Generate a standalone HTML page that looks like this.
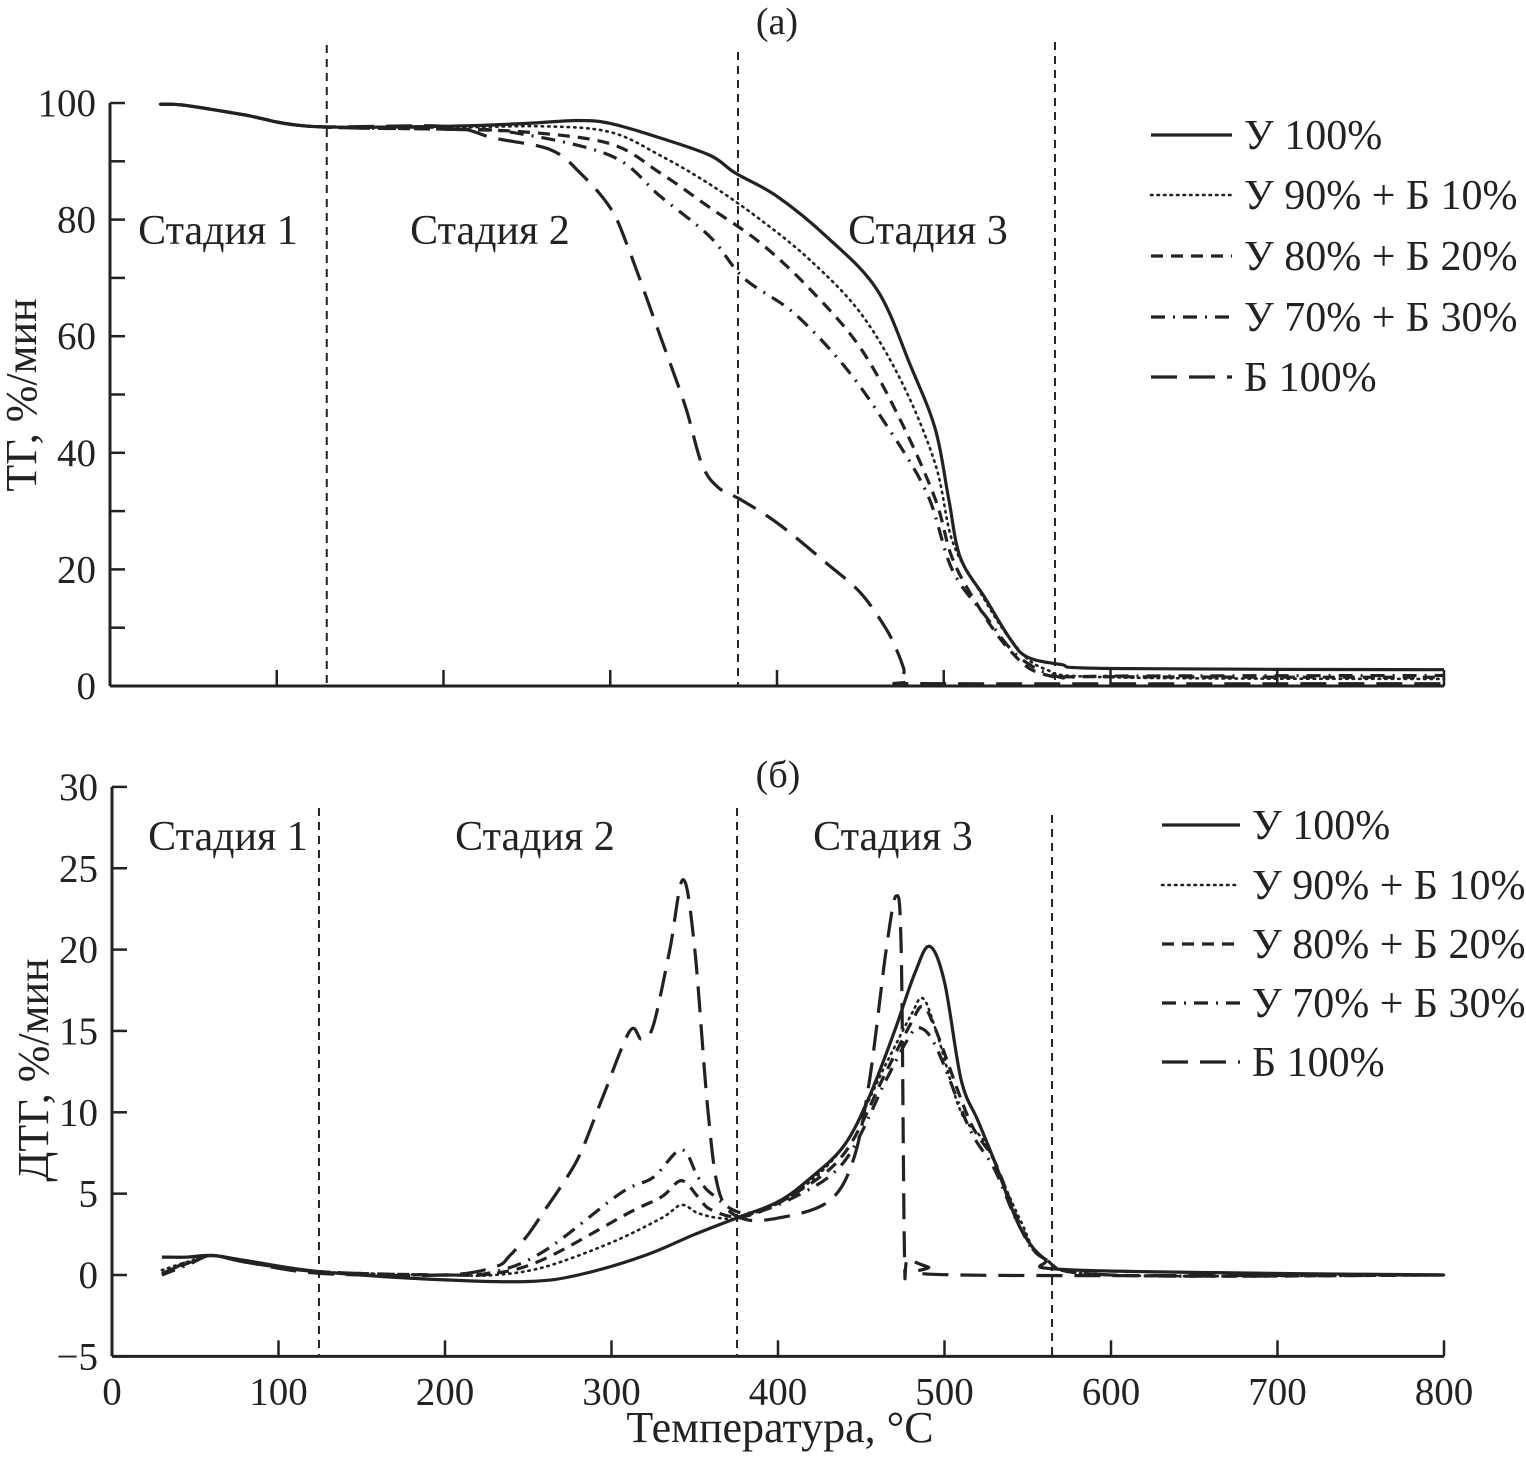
<!DOCTYPE html>
<html><head><meta charset="utf-8"><style>
html,body{margin:0;padding:0;background:#fff;}
svg{display:block;font-family:"Liberation Serif",serif;}
</style></head><body>
<svg id="chart" width="1526" height="1460" viewBox="0 0 1526 1460" xmlns="http://www.w3.org/2000/svg">
<rect width="1526" height="1460" fill="#fff"/>
</svg>
<script>
// ---- Top panel (TG) data ----
const tgU100T=[30,45,80,120,200,250,280,300,330,360,375,400,430,460,480,495,503,510,525,540,550,570,600,800];
const tgU100V=[99.8,99.6,98,96,96,96.5,97,96.5,94,91,88,84,77,68,55,44,32,22,15,8,5,3.7,3,2.8];
const tgU90T=[30,45,80,120,200,260,300,330,360,390,420,450,475,495,505,520,540,560,600,800];
const tgU90V=[99.8,99.6,98,96,95.8,96,95,91,86,80,73,64,52,38,25,17,8,3,1.5,1.2];
const tgU80T=[30,45,80,120,200,250,300,330,360,390,420,450,475,495,505,520,540,560,600,800];
const tgU80V=[99.8,99.6,98,96,95.5,95,93,88,82,76,68,58,45,32,22,14,6,2,1.6,1.5];
const tgU70T=[30,45,80,120,200,240,300,330,360,380,410,440,465,490,505,525,545,570,600,800];
const tgU70V=[99.8,99.6,98,96,95.5,95,91,84,77,70,64,55,45,33,20,12,5,1.5,1.7,1.8];
const tgB100T=[30,45,80,120,200,230,264,282,300,311,330,345,355,365,378,400,430,450,465,472,476,478,500,800];
const tgB100V=[99.8,99.6,98,96,96,94,92,88,82,75,60,48,38,34,32,28,21,16,10,6,3,0.8,0.4,0.4];
// ---- Bottom panel (DTG) data ----
const dtgU100T=[30,45,60,80,125,200,250,280,320,350,375,400,420,440,455,470,482,491,500,510,520,530,545,560,580,800];
const dtgU100V=[1.1,1.1,1.2,0.9,0.2,-0.3,-0.4,0,1.2,2.5,3.5,4.5,6,8,11,15,18.5,20.2,18,12,9.5,7,3,1,0.3,0];
const dtgU90T=[30,45,60,80,125,200,230,260,300,330,342,352,365,380,410,440,465,480,487,495,510,525,545,560,600,800];
const dtgU90V=[0.3,0.8,1.2,0.8,0.2,0,0,0.5,2,3.5,4.3,3.8,3.5,3.6,5,8,13,16,17,15,10,8,3.5,1,0,0];
const dtgU80T=[30,45,60,80,125,200,230,260,310,330,342,352,360,380,410,440,465,480,487,495,515,530,545,560,600,800];
const dtgU80V=[0.1,0.7,1.2,0.8,0.2,0,0.1,1,3.8,4.8,5.8,4.8,4,3.6,5,7.5,12.5,15.5,16.5,15,9.5,7,3.2,1,0,0];
const dtgU70T=[30,45,60,80,125,200,230,260,305,325,342,352,360,380,410,440,465,478,485,495,515,530,545,560,600,800];
const dtgU70V=[0,0.6,1.2,0.8,0.2,0,0.2,1.5,5,6,7.7,6,5,3.8,4.8,7,12,14.5,15.2,14,9,6.5,3,1,0,0];
const dtgB100T=[30,45,60,80,125,200,230,239,250,260,270,281,295,311,318,325,335,343,350,358,365,378,400,430,445,455,465,471,474,476,478,490,510,800];
const dtgB100V=[0,0.8,1.2,0.8,0.1,0,0.5,1.2,2.5,4,5.5,7.4,11,15,14.5,15.3,20,24.3,20,10,5,3.5,3.5,4.5,7,12,20,23.3,20,1.2,1,0.5,0,0];
const xTicks=[0,100,200,300,400,500,600,700,800];
const tgTicks=[0,20,40,60,80,100];
const dtgTicks=[-5,0,5,10,15,20,25,30];
const legendLabels=["У 100%","У 90% + Б 10%","У 80% + Б 20%","У 70% + Б 30%","Б 100%"];

const NS="http://www.w3.org/2000/svg";
const svg=document.getElementById('chart');
function mk(tag,attrs,parent){const e=document.createElementNS(NS,tag);for(const k in attrs)e.setAttribute(k,attrs[k]);(parent||svg).appendChild(e);return e;}
const styles=[
 {w:3.2,d:""},
 {w:2.6,d:"1.5 5",cap:"round"},
 {w:3.2,d:"12 8"},
 {w:3.2,d:"14 8 2 8"},
 {w:3.2,d:"26 12"}
];
const keys=['u100','u90-b10','u80-b20','u70-b30','b100'];

const tx=t=>110+t*1.6675, ty=v=>686-v*5.83;
const bx=t=>112+t*1.665, by=v=>1275-v*16.27;

function axes(xf,yf,yMin,yMax,ticksY,minorStep,showXLabels,name){
  const g=mk('g',{});
  
  
  mk('line',{x1:xf(0),y1:yf(yMax),x2:xf(0),y2:yf(yMin),stroke:'#222','stroke-width':3},g);
  mk('line',{x1:xf(0),y1:yf(yMin),x2:xf(800),y2:yf(yMin),stroke:'#222','stroke-width':3},g);
  xTicks.forEach(t=>{
    if(t>0) mk('line',{x1:xf(t),y1:yf(yMin),x2:xf(t),y2:yf(yMin)-16,stroke:'#222','stroke-width':2.5},g);
    if(showXLabels){const tt=mk('text',{x:xf(t),y:yf(yMin)+48,'font-size':39,'text-anchor':'middle',fill:'#222'},g);tt.textContent=t;
      
      }
  });
  for(let v=yMin;v<=yMax+0.01;v+=minorStep){
    mk('line',{x1:xf(0),y1:yf(v),x2:xf(0)+15,y2:yf(v),stroke:'#222','stroke-width':2.5},g);
  }
  ticksY.forEach(v=>{
    const tt=mk('text',{x:xf(0)-14,y:yf(v)+13,'font-size':39,'text-anchor':'end',fill:'#222'},g);
    tt.textContent=(v<0?'\u2212'+(-v):v);
    
    
  });
}
axes(tx,ty,0,100,tgTicks,10,false,'tg');
axes(bx,by,-5,30,dtgTicks,5,true,'dtg');

function vline(x,y1,y2){const l=mk('line',{x1:x,y1:y1,x2:x,y2:y2,stroke:'#222','stroke-width':2,'stroke-dasharray':'8 6'});
  
  }
vline(tx(130),45,686);vline(tx(376.6),52,686);vline(tx(566.7),42,686);
vline(bx(124.3),808,1356);vline(bx(375.4),808,1356);vline(bx(564.6),815,1356);

function series(T,V,xf,yf,i,name){
  const P=T.map((t,j)=>[xf(t),yf(V[j])]);
  let d='M'+P[0][0].toFixed(1)+','+P[0][1].toFixed(1);
  for(let j=0;j<P.length-1;j++){
    const p0=P[Math.max(0,j-1)],p1=P[j],p2=P[j+1],p3=P[Math.min(P.length-1,j+2)];
    const c1=[p1[0]+(p2[0]-p0[0])/6,p1[1]+(p2[1]-p0[1])/6];
    const c2=[p2[0]-(p3[0]-p1[0])/6,p2[1]-(p3[1]-p1[1])/6];
    d+='C'+c1[0].toFixed(1)+','+c1[1].toFixed(1)+' '+c2[0].toFixed(1)+','+c2[1].toFixed(1)+' '+p2[0].toFixed(1)+','+p2[1].toFixed(1);
  }
  const p=mk('path',{d:d,fill:'none',stroke:'#222','stroke-width':styles[i].w,'stroke-dasharray':styles[i].d,'stroke-linecap':styles[i].cap||'butt','stroke-linejoin':'round'});
  
  
}
const tgData=[[tgU100T,tgU100V],[tgU90T,tgU90V],[tgU80T,tgU80V],[tgU70T,tgU70V],[tgB100T,tgB100V]];
const dtgData=[[dtgU100T,dtgU100V],[dtgU90T,dtgU90V],[dtgU80T,dtgU80V],[dtgU70T,dtgU70V],[dtgB100T,dtgB100V]];
tgData.forEach((s,i)=>series(s[0],s[1],tx,ty,i,'tg-line-'+keys[i]));
dtgData.forEach((s,i)=>series(s[0],s[1],bx,by,i,'dtg-line-'+keys[i]));

function legend(x1,x2,tx0,ys,name){
  legendLabels.forEach((lab,i)=>{
    const g=mk('g',{});
    
    
    mk('line',{x1:x1,y1:ys[i],x2:x2,y2:ys[i],stroke:'#222','stroke-width':styles[i].w,'stroke-dasharray':styles[i].d,'stroke-linecap':styles[i].cap||'butt'},g);
    const t=mk('text',{x:tx0,y:ys[i]+14,'font-size':42,fill:'#222'},g);t.textContent=lab;
  });
}
legend(1151,1232,1244,[135,195,256,317,377],'tg-legend');
legend(1162,1240,1252,[825,885,944,1003,1062],'dtg-legend');

function text(x,y,s,size,name,anchor,rot){
  const t=mk('text',{x:x,y:y,'font-size':size,'text-anchor':anchor||'middle',fill:'#222'});
  if(rot) t.setAttribute('transform','rotate(-90 '+x+' '+y+')');
  t.textContent=s;
  
  
}
text(777,34,'(а)',38,'panel-a-label');
text(778,787,'(б)',38,'panel-b-label');
text(218,244,'Стадия 1',42,'stage-1-label');
text(490,244,'Стадия 2',42,'stage-2-label');
text(928,244,'Стадия 3',42,'stage-3-label');
text(228,850,'Стадия 1',42,'stage-1-label');
text(535,850,'Стадия 2',42,'stage-2-label');
text(893,850,'Стадия 3',42,'stage-3-label');
text(36,395,'ТГ, %/мин',44,'y-axis-title',null,true);
text(48,1070,'ДТГ, %/мин',44,'y-axis-title',null,true);
text(780,1442,'Температура, °С',44,'x-axis-title');
</script>
</body></html>
